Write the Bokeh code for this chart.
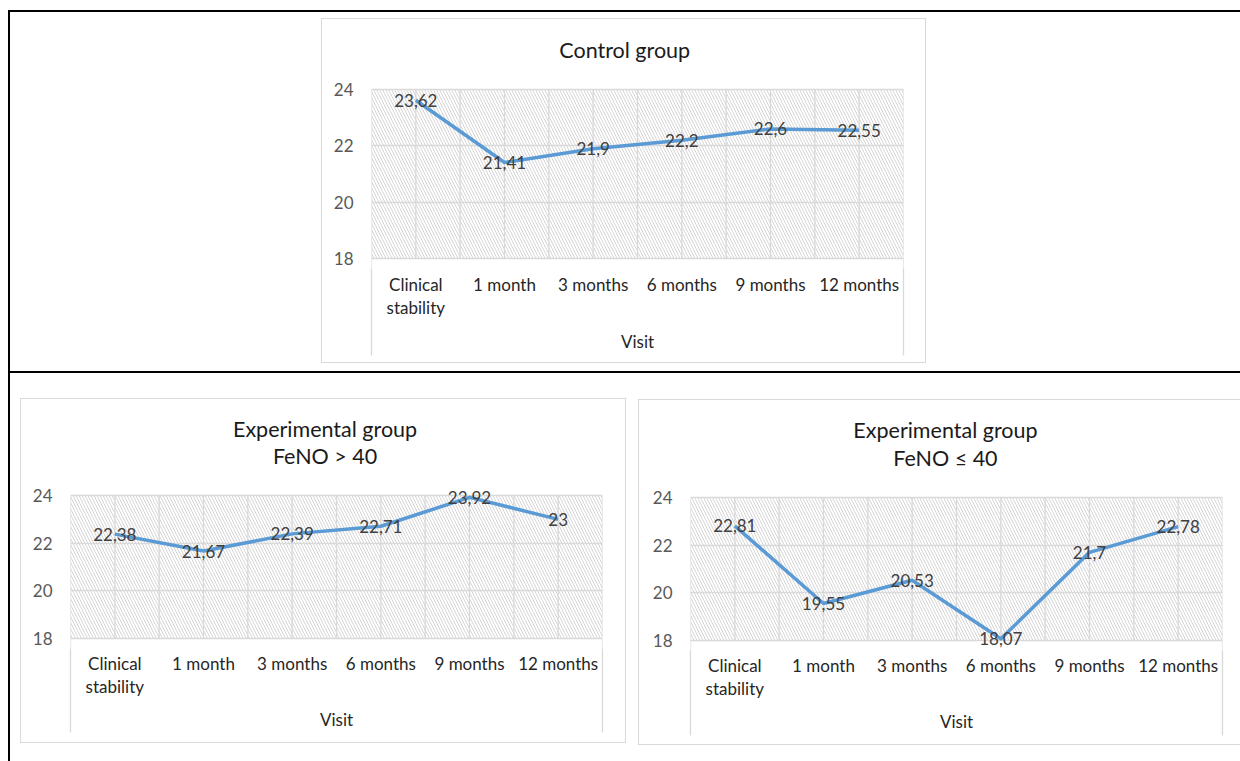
from bokeh.plotting import figure
from bokeh.models import (Range1d, FixedTicker, LinearAxis, Grid, BoxAnnotation,
                          Div, Spacer, ColumnDataSource)
from bokeh.layouts import row, column
from bokeh.core.properties import value
from bokeh.embed import file_html
from bokeh.resources import INLINE

# Visits along the horizontal axis
visits = ["Clinical\nstability", "1 month", "3 months", "6 months", "9 months", "12 months"]

# Mean values per visit for each group
control = [23.62, 21.41, 21.9, 22.2, 22.6, 22.55]
feno_high = [22.38, 21.67, 22.39, 22.71, 23.92, 23]
feno_low = [22.81, 19.55, 20.53, 18.07, 21.7, 22.78]

y_ticks = [18, 20, 22, 24]

FONT = "Lato"
GRID = "#d9d9d9"
LINE = "#5b9bd5"
BLACK = {"background-color": "#000000"}
FRAME_GRAY = {"background-color": "#d9d9d9"}
PAD = 10  # px of free room above and below the hatched area, so value labels are not cut


def title_block(lines, width, height, cx, first_y, line_gap):
    """Chart heading drawn in its own strip, in pixel coordinates (y downward)."""
    t = figure(width=width, height=height, output_backend="svg", toolbar_location=None,
               x_range=Range1d(0, width), y_range=Range1d(height, 0),
               x_axis_type=None, y_axis_type=None, min_border=0,
               background_fill_color="white", border_fill_color="white",
               outline_line_color=None, margin=0)
    t.title = None
    src = ColumnDataSource(dict(x=[cx] * len(lines),
                                y=[first_y + i * line_gap for i in range(len(lines))],
                                text=lines))
    t.text("x", "y", text="text", source=src, text_align="center", text_baseline="middle",
           text_font=value(FONT), text_font_size="21.5px", text_color="#1a1a1a")
    return t


def make_chart(values, width, height, borders, area_px, side_tick, label_gap, visit_gap):
    """area_px: pixel height of the 18..24 band."""
    left, right, top, bottom = borders
    n = len(visits)
    lo, hi = y_ticks[0], y_ticks[-1]
    pad = PAD * (hi - lo) / area_px
    p = figure(width=width, height=height, output_backend="svg", toolbar_location=None,
               x_range=Range1d(0, n), y_range=Range1d(lo - pad, hi + pad),
               x_axis_type=None, y_axis_type=None,
               min_border_left=left, min_border_right=right,
               min_border_top=top - PAD, min_border_bottom=bottom - PAD,
               background_fill_color="white", border_fill_color="white",
               outline_line_color=None, margin=0)
    p.title = None

    # diagonal hatching of the plot area
    p.add_layout(BoxAnnotation(bottom=lo, top=hi, fill_alpha=0, line_alpha=0,
                               hatch_pattern="\\", hatch_color="#d5d5d5", hatch_weight=1,
                               hatch_scale=6, level="underlay"))

    centers = [i + 0.5 for i in range(n)]
    xaxis = LinearAxis(ticker=FixedTicker(ticks=centers, minor_ticks=[0, n]),
                       major_label_overrides={c: lab for c, lab in zip(centers, visits)},
                       axis_label="Visit",
                       axis_line_color=None,
                       major_tick_out=0, major_tick_in=0,
                       minor_tick_out=side_tick - PAD, minor_tick_in=0,
                       minor_tick_line_color=GRID, minor_tick_line_width=1.3,
                       major_label_standoff=label_gap - side_tick,
                       major_label_text_font=FONT, major_label_text_font_size="17px",
                       major_label_text_color="#262626", major_label_text_line_height=1.1,
                       axis_label_standoff=visit_gap,
                       axis_label_text_font=FONT, axis_label_text_font_size="17px",
                       axis_label_text_font_style="normal", axis_label_text_color="#262626")
    p.add_layout(xaxis, "below")

    yaxis = LinearAxis(ticker=FixedTicker(ticks=y_ticks),
                       axis_line_color=None, major_tick_line_color=None,
                       minor_tick_line_color=None,
                       major_label_standoff=12,
                       major_label_text_font=FONT, major_label_text_font_size="17px",
                       major_label_text_color="#595959")
    p.add_layout(yaxis, "left")

    # horizontal gridlines
    p.add_layout(Grid(dimension=1, ticker=FixedTicker(ticks=y_ticks),
                      grid_line_color=GRID, grid_line_width=1.3))
    # vertical gridlines at category edges and centres; the outer edges run down to the labels
    xs = [i * 0.5 for i in range(2 * n + 1)]
    p.segment(x0=xs, x1=xs, y0=[lo - pad if x in (0, n) else lo for x in xs],
              y1=[hi] * len(xs), line_color=GRID, line_width=1.3)

    src = ColumnDataSource(dict(x=centers, y=values,
                                label=[f"{v:g}".replace(".", ",") for v in values]))
    p.line("x", "y", source=src, line_color=LINE, line_width=3.5, line_join="round")
    p.text("x", "y", text="label", source=src, text_align="center", text_baseline="middle",
           text_font=value(FONT), text_font_size="17px", text_color="#404040")
    return p


def hline(w, style=BLACK, h=2):
    return Div(width=w, height=h, margin=0, styles=style)


def vline(h, style=BLACK, w=2):
    return Div(width=w, height=h, margin=0, styles=style)


def gap(w, h):
    return Spacer(width=w, height=h, margin=0)


def boxed(content, w, h, right_edge=True):
    """Surround a chart with a thin light-gray frame."""
    sides = [vline(h, FRAME_GRAY, 1), content]
    if right_edge:
        sides.append(vline(h, FRAME_GRAY, 1))
    total = w + (2 if right_edge else 1)
    return column(hline(total, FRAME_GRAY, 1), row(*sides, margin=0),
                  hline(total, FRAME_GRAY, 1), margin=0)


chart_control = column(
    title_block(["Control group"], 603, 50, 287, 30, 0),
    make_chart(control, 603, 293, (49, 22, 20, 104), 169,
               side_tick=97, label_gap=15, visit_gap=10),
    margin=0)
chart_high = column(
    title_block(["Experimental group", "FeNO > 40"], 604, 75, 289, 29, 27),
    make_chart(feno_high, 604, 268, (49, 23, 21, 104), 143,
               side_tick=94, label_gap=14, visit_gap=9),
    margin=0)
chart_low = column(
    title_block(["Experimental group", "FeNO \u2264 40"], 601, 75, 288, 29, 28),
    make_chart(feno_low, 601, 269, (51, 18, 22, 104), 143,
               side_tick=95, label_gap=14, visit_gap=9),
    margin=0)

top_line = row(gap(8, 2), hline(1232), margin=0)
top_section = row(gap(8, 359), vline(359), gap(311, 359),
                  column(gap(605, 6), boxed(chart_control, 603, 343), gap(605, 8), margin=0),
                  margin=0)
mid_line = row(gap(8, 2), hline(1232), margin=0)
bottom_section = row(gap(8, 388), vline(388), gap(10, 388),
                     column(gap(606, 25), boxed(chart_high, 604, 343), margin=0), gap(12, 388),
                     column(gap(602, 26), boxed(chart_low, 601, 344, right_edge=False), margin=0),
                     margin=0)

root = column(gap(1240, 10), top_line, top_section, mid_line, bottom_section, margin=0)

open("out.html", "w").write(file_html(root, INLINE))
